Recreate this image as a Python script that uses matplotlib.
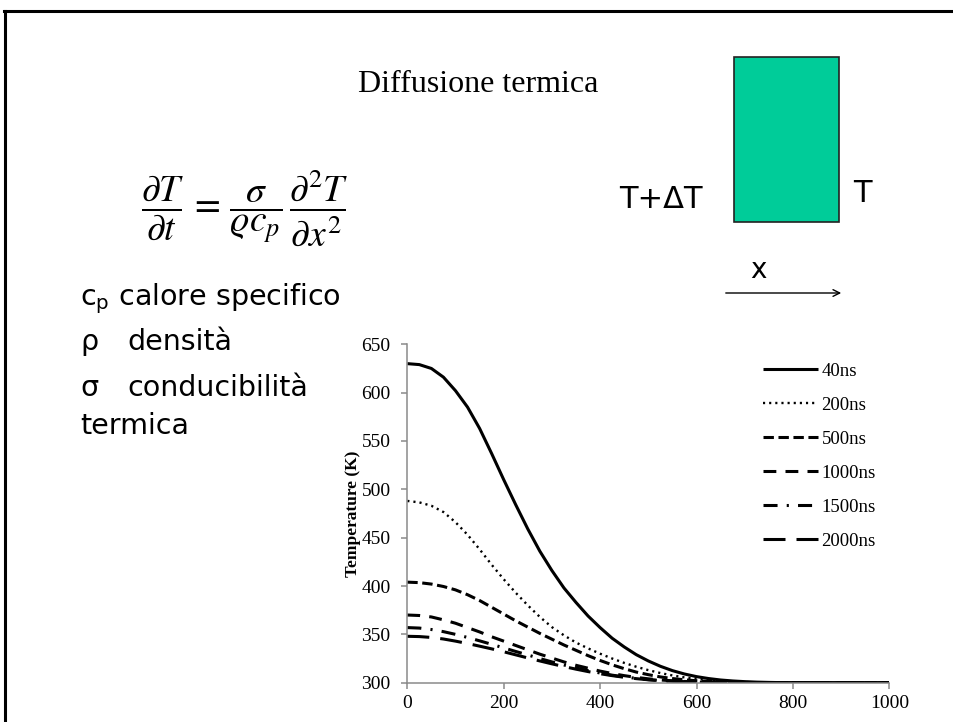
import numpy as np
import matplotlib
matplotlib.use('Agg')
import matplotlib.pyplot as plt
from matplotlib.patches import Rectangle, FancyArrowPatch
from matplotlib.lines import Line2D

W, H = 954, 722

# distance along the sample (x axis), one sample every 25 units
x_pos = [0, 25, 50, 75, 100, 125, 150, 175, 200, 225, 250, 275, 300, 325,
         350, 375, 400, 425, 450, 475, 500, 525, 550, 575, 600, 625, 650,
         675, 700, 725, 750, 775, 800, 825, 850, 875, 900, 925, 950, 975, 1000]

# temperature profiles (K) for each time step
t_40 = [630, 629, 625, 616, 602, 585, 563, 537, 510, 484, 459, 436, 416, 398,
        383, 369, 357, 346, 337, 329, 322.5, 317, 312.5, 309, 306.3, 304.3,
        302.8, 301.8, 301.1, 300.6, 300.3, 300.1, 300, 300, 300, 300, 300,
        300, 300, 300, 300]
t_200 = [488, 486.5, 483, 476.5, 466, 453, 438, 422, 407, 393, 380, 368,
         357.5, 349, 341.5, 335.5, 330, 325, 320.5, 316.5, 313, 310, 307.5,
         305.5, 304, 302.7, 301.8, 301.1, 300.6, 300.3, 300.1, 300, 300, 300,
         300, 300, 300, 300, 300, 300, 300]
t_500 = [404, 403.5, 402, 399.5, 396, 391, 385, 378, 371, 364, 357.5, 351,
         345, 339, 333.5, 328, 323, 318.5, 314.5, 311, 308.3, 306, 304.3, 303,
         302, 301.3, 300.8, 300.5, 300.3, 300.1, 300, 300, 300, 300, 300, 300,
         300, 300, 300, 300, 300]
t_1000 = [370, 369.5, 368, 365, 361.5, 357, 352.5, 347.5, 343, 338.5, 334,
          329.5, 325.5, 321.5, 318, 315, 312, 309.5, 307.3, 305.5, 304, 302.8,
          302, 301.3, 300.8, 300.5, 300.3, 300.1, 300, 300, 300, 300, 300, 300,
          300, 300, 300, 300, 300, 300, 300]
t_1500 = [357, 356.5, 355, 352.8, 350, 346.8, 343.3, 339.7, 336, 332.3, 328.7,
          325, 321.5, 318.3, 315.3, 312.5, 310, 307.8, 306, 304.5, 303.2,
          302.3, 301.6, 301, 300.6, 300.3, 300.1, 300, 300, 300, 300, 300, 300,
          300, 300, 300, 300, 300, 300, 300, 300]
t_2000 = [348, 347.7, 346.8, 345.2, 343, 340.5, 337.8, 335, 332, 328.8, 325.6,
          322.5, 319.5, 316.7, 314, 311.5, 309.3, 307.3, 305.6, 304.2, 303,
          302.1, 301.4, 300.9, 300.5, 300.3, 300.1, 300, 300, 300, 300, 300,
          300, 300, 300, 300, 300, 300, 300, 300, 300]

labels = ['40ns', '200ns', '500ns', '1000ns', '1500ns', '2000ns']
series = [t_40, t_200, t_500, t_1000, t_1500, t_2000]
x_ticks = [0, 200, 400, 600, 800, 1000]
y_ticks = [300, 350, 400, 450, 500, 550, 600, 650]

# line styles: (linewidth, dash pattern or None for solid)
styles = [
    (2.2, None),
    (1.7, (0.9, 1.7)),
    (2.2, (3.4, 1.5)),
    (2.2, (4.2, 3.0)),
    (2.2, (4.6, 3.0, 0.7, 3.0)),
    (2.2, (7.2, 3.6)),
]


def fx(x):
    return x / W


def fy(y):
    return 1 - y / H


fig = plt.figure(figsize=(W / 100, H / 100), dpi=100)
fig.patch.set_facecolor('white')

# slide frame (top and left edges)
fig.add_artist(Line2D([fx(4), 1.0], [fy(10.5), fy(10.5)], color='black', lw=2.2))
fig.add_artist(Line2D([fx(4.7), fx(4.7)], [0.0, fy(10.5)], color='black', lw=2.2))

# title
fig.text(fx(358), fy(92), 'Diffusione termica', family='Liberation Serif',
         fontsize=23, ha='left', va='baseline')

# heat equation
fig.text(fx(245), fy(208),
         r'$\dfrac{\partial T}{\partial t}\,=\,\dfrac{\sigma}{\varrho c_p}\,\dfrac{\partial^2 T}{\partial x^2}$',
         fontsize=27, ha='center', va='center', math_fontfamily='stix')

# symbol legend on the left
sans = 'DejaVu Sans'
fs = 20.5
fig.text(fx(80), fy(305), r'c$_\mathregular{p}$ calore specifico', family=sans,
         fontsize=fs, ha='left', va='baseline')
fig.text(fx(80), fy(350), 'ρ', family=sans, fontsize=fs, ha='left', va='baseline')
fig.text(fx(127), fy(350), 'densità', family=sans, fontsize=fs, ha='left', va='baseline')
fig.text(fx(80), fy(396), 'σ', family=sans, fontsize=fs, ha='left', va='baseline')
fig.text(fx(127), fy(396), 'conducibilità', family=sans, fontsize=fs, ha='left', va='baseline')
fig.text(fx(80), fy(434), 'termica', family=sans, fontsize=fs, ha='left', va='baseline')

# slab sketch
fig.add_artist(Rectangle((fx(734), fy(222)), (839 - 734) / W, (222 - 57) / H,
                         transform=fig.transFigure, facecolor='#00cc99',
                         edgecolor='#222222', lw=1.2))
fig.text(fx(703), fy(208), 'T+ΔT', family=sans, fontsize=22, ha='right', va='baseline')
fig.text(fx(853), fy(202), 'T', family=sans, fontsize=22, ha='left', va='baseline')
fig.text(fx(750), fy(278), 'x', family=sans, fontsize=20, ha='left', va='baseline')
fig.add_artist(FancyArrowPatch(
    (fx(723), fy(293)), (fx(844), fy(293)), transform=fig.transFigure,
    arrowstyle='->', mutation_scale=12, lw=1.0, color='black'))

# temperature profiles
ax = fig.add_axes([fx(407.3), fy(682.7), 482 / W, 338.4 / H])
for vals, lab, (lw, dash) in zip(series, labels, styles):
    line, = ax.plot(x_pos, vals, color='black', lw=lw, label=lab,
                    solid_capstyle='butt', dash_capstyle='butt')
    if dash is not None:
        line.set_dashes(dash)

ax.set_xlim(0, 1000)
ax.set_ylim(300, 650)
ax.set_xticks(x_ticks)
ax.set_yticks(y_ticks)
for s in ['top', 'right']:
    ax.spines[s].set_visible(False)
for s in ['left', 'bottom']:
    ax.spines[s].set_color('#8a8a8a')
    ax.spines[s].set_linewidth(1.1)
ax.tick_params(axis='both', direction='out', color='#8a8a8a', width=1.1,
               length=4, labelsize=14)
ax.tick_params(axis='x', pad=5)
ax.tick_params(axis='y', pad=8)
for t in ax.get_xticklabels() + ax.get_yticklabels():
    t.set_family('Liberation Serif')
ax.set_ylabel('Temperature (K)', family='Liberation Serif', fontsize=12.5,
              fontweight='bold', labelpad=0)

ax.legend(loc='upper left', bbox_to_anchor=(0.7386, 0.945), frameon=False,
          borderpad=0, borderaxespad=0, handlelength=2.9, handletextpad=0.2,
          labelspacing=0.9, prop={'family': 'Liberation Serif', 'size': 13.5})

fig.savefig('out.png', dpi=100, facecolor='white')
